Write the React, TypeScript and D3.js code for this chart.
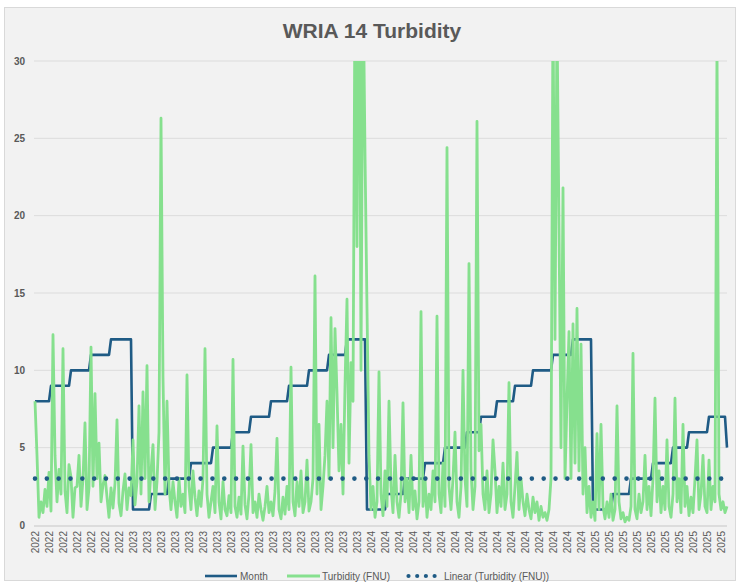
import React, { useRef, useEffect } from 'react';
import * as d3 from 'd3';

// Turbidity (FNU), one value per reading, Aug 2022 -> Jul 2025
const turbidity = [
  8.0, 4.5, 0.5, 1.5, 0.8, 2.3, 1.2, 3.4, 0.9, 12.3,
  4.5, 1.5, 3.6, 2.0, 11.4, 2.2, 0.8, 3.9, 3.1, 0.5,
  2.4, 2.5, 4.5, 1.2, 3.0, 6.6, 1.0, 2.4, 11.5, 2.5,
  8.5, 3.0, 5.3, 1.5, 2.6, 3.2, 1.8, 0.5, 2.4, 1.1,
  2.7, 6.8, 1.4, 0.6, 2.2, 3.3, 1.0, 2.4, 1.9, 5.5,
  1.3, 2.8, 7.7, 2.0, 8.6, 3.0, 10.3, 1.5, 3.5, 5.2,
  1.0, 2.8, 6.0, 26.3, 9.5, 2.0, 8.0, 2.5, 1.0, 2.8,
  1.5, 0.5, 3.0, 1.2, 2.0, 0.8, 9.7, 2.5, 1.0, 3.5,
  1.8, 0.6, 2.2, 1.2, 3.0, 11.4, 2.0, 0.5, 1.5, 2.5,
  0.8, 6.4, 1.5, 0.4, 2.8, 1.0, 0.6, 1.9, 0.8, 10.7,
  1.2, 0.5, 1.8, 0.7, 5.1, 1.3, 0.4, 2.0, 5.2, 0.8,
  1.5, 0.5, 2.0, 1.0, 0.3, 1.2, 2.5, 0.8, 1.5, 0.6,
  2.2, 5.6, 1.0, 0.4, 1.8, 0.7, 2.5, 1.0, 10.2, 1.5,
  0.6, 2.8, 1.2, 3.5, 0.8, 1.5, 4.2, 0.9, 1.5, 3.0,
  16.1, 2.0, 6.5, 1.0, 2.5, 4.5, 8.0, 3.0, 13.4, 5.0,
  12.7, 8.5, 3.5, 6.5, 2.0, 9.0, 14.6, 4.0, 10.5, 8.0,
  35, 18, 42, 10, 36, 24, 14.0, 4.5, 1.0, 2.5,
  0.5, 1.5, 9.9, 2.0, 0.6, 3.5, 1.2, 8.0, 2.5, 0.8,
  4.5, 1.5, 0.5, 2.0, 7.9, 1.5, 3.0, 0.8, 4.5, 1.0,
  2.2, 0.4, 1.5, 13.8, 1.2, 3.0, 0.5, 2.0, 1.0, 3.5,
  1.5, 13.5, 2.0, 0.8, 4.0, 1.2, 24.4, 2.5, 1.0, 3.0,
  6.0, 1.5, 0.5, 2.5, 10.0, 3.0, 1.2, 16.9, 3.5, 1.0,
  2.5, 26.1, 4.8, 6.5, 2.0, 1.0, 3.5, 0.8, 2.0, 5.5,
  3.5, 0.8, 2.5, 1.2, 4.0, 1.0, 2.0, 9.2, 1.5, 0.5,
  2.5, 4.7, 1.0, 3.0, 1.5, 0.6, 2.0, 1.0, 0.4, 1.8,
  0.8, 1.5, 0.3, 1.2, 0.5, 0.8, 0.3, 1.0, 3.0, 34,
  12, 33, 19.2, 5.0, 21.8, 3.0, 8.0, 12.5, 3.0, 13.0,
  4.0, 14.0, 3.5, 11.7, 2.0, 5.0, 0.8, 2.5, 0.5, 1.5,
  0.3, 5.9, 1.0, 6.5, 1.2, 0.4, 1.5, 0.5, 2.0, 0.3,
  1.0, 7.7, 1.5, 0.4, 0.8, 0.2, 0.5, 0.3, 1.2, 11.1,
  1.0, 0.4, 2.0, 0.8, 1.5, 4.5, 1.0, 2.5, 0.6, 3.0,
  8.2, 1.5, 3.5, 0.8, 2.5, 1.0, 5.5, 1.2, 0.5, 2.0,
  8.2, 1.5, 3.0, 0.8, 6.5, 1.2, 2.5, 0.6, 1.8, 0.8,
  3.0, 5.5, 1.0, 2.0, 4.5, 1.2, 0.8, 4.2, 1.0, 2.5,
  1.5, 31, 2.0, 1.0, 1.5, 0.8, 1.2,
];

// Month column: value and number of readings in that month
const monthValues = [
  8, 9, 10, 11, 12,
  1, 2, 3, 4, 5, 6, 7, 8, 9, 10, 11, 12,
  1, 2, 3, 4, 5, 6, 7, 8, 9, 10, 11, 12,
  1, 2, 3, 4, 5, 6, 7, 5,
];
const monthRuns = [
  8, 10, 10, 10, 11,
  9, 9, 11, 11, 10, 9, 10, 9, 10, 10, 9, 10,
  10, 9, 10, 10, 11, 7, 8, 9, 9, 10, 10, 10,
  10, 9, 11, 10, 8, 10, 9, 1,
];

// Category labels shown every 7th reading
const yearLabels = [
  '2022', '2022', '2022', '2022', '2022', '2022', '2022',
  '2023', '2023', '2023', '2023', '2023', '2023', '2023', '2023', '2023',
  '2023', '2023', '2023', '2023', '2023', '2023', '2023', '2023',
  '2024', '2024', '2024', '2024', '2024', '2024', '2024', '2024',
  '2024', '2024', '2024', '2024', '2024', '2024', '2024', '2024',
  '2025', '2025', '2025', '2025', '2025', '2025', '2025', '2025', '2025', '2025',
];
const labelEvery = 7;

const yTicks = [0, 5, 10, 15, 20, 25, 30];
const trendEnds = [3.0, 3.0]; // linear trendline of turbidity, first and last reading

const App = () => {
  const svgRef = useRef(null);

  useEffect(() => {
    const svg = d3.select(svgRef.current);
    svg.selectAll('*').remove();

    const width = 739;
    const height = 582;
    const plot = { left: 35, right: 727, top: 61, bottom: 525 };
    const textColor = '#595959';
    const blue = '#1f5b85';
    const green = '#86e08e';
    const font = "'Liberation Sans', Arial, sans-serif";

    const months = monthValues.flatMap((m, k) => d3.range(monthRuns[k]).map(() => m));
    const n = turbidity.length;

    const x = d3.scaleLinear().domain([0, n - 1]).range([plot.left, plot.right]);
    const y = d3.scaleLinear().domain([0, 30]).range([plot.bottom, plot.top]);

    svg.attr('width', width).attr('height', height);

    // chart frame
    svg.append('rect')
       .attr('x', 4.5).attr('y', 7.5)
       .attr('width', 731).attr('height', 573)
       .attr('fill', '#f2f2f2')
       .attr('stroke', '#d9d9d9');

    // title
    svg.append('text')
       .attr('x', 372)
       .attr('y', 38)
       .attr('text-anchor', 'middle')
       .attr('font-family', font)
       .attr('font-weight', 'bold')
       .attr('font-size', 21)
       .attr('fill', textColor)
       .text('WRIA 14 Turbidity');

    // gridlines + y labels
    svg.append('g')
       .selectAll('line')
       .data(yTicks.filter(d => d > 0))
       .join('line')
       .attr('x1', plot.left - 1).attr('x2', plot.right)
       .attr('y1', d => y(d)).attr('y2', d => y(d))
       .attr('stroke', '#dcdcdc')
       .attr('stroke-width', 1);

    svg.append('line')
       .attr('x1', plot.left - 1).attr('x2', plot.right)
       .attr('y1', y(0) + 1).attr('y2', y(0) + 1)
       .attr('stroke', '#d4d4d4')
       .attr('stroke-width', 1.5);

    svg.append('g')
       .selectAll('text')
       .data(yTicks)
       .join('text')
       .attr('x', 25)
       .attr('y', d => y(d) + 3.5)
       .attr('text-anchor', 'end')
       .attr('font-family', font)
       .attr('font-weight', 'bold')
       .attr('font-size', 10)
       .attr('fill', textColor)
       .text(d => d);

    // x labels, rotated
    svg.append('g')
       .selectAll('text')
       .data(yearLabels)
       .join('text')
       .attr('transform', (d, j) => `translate(${x(j * labelEvery)}, 531) rotate(-90)`)
       .attr('dy', '0.35em')
       .attr('text-anchor', 'end')
       .attr('font-family', font)
       .attr('font-size', 10)
       .attr('fill', textColor)
       .text(d => d);

    svg.append('clipPath')
       .attr('id', 'plotClip')
       .append('rect')
       .attr('x', plot.left - 3).attr('y', plot.top)
       .attr('width', plot.right - plot.left + 6)
       .attr('height', plot.bottom - plot.top + 5);

    const g = svg.append('g').attr('clip-path', 'url(#plotClip)');

    // Month
    g.append('path')
       .datum(months)
       .attr('fill', 'none')
       .attr('stroke', blue)
       .attr('stroke-width', 2.6)
       .attr('stroke-linejoin', 'round')
       .attr('d', d3.line().x((d, i) => x(i)).y(d => y(d)));

    // Turbidity
    g.append('path')
       .datum(turbidity)
       .attr('fill', 'none')
       .attr('stroke', green)
       .attr('stroke-width', 2.8)
       .attr('stroke-linejoin', 'round')
       .attr('d', d3.line().x((d, i) => x(i)).y(d => y(d)));

    // Linear trend
    g.append('path')
       .datum(trendEnds)
       .attr('fill', 'none')
       .attr('stroke', blue)
       .attr('stroke-width', 4.6)
       .attr('stroke-linecap', 'round')
       .attr('stroke-dasharray', '0 11.83')
       .attr('d', d3.line().x((d, i) => x(i * (n - 1))).y(d => y(d)));

    // legend
    const legendY = 576;
    const legend = svg.append('g')
       .attr('font-family', font)
       .attr('font-size', 10)
       .attr('fill', textColor);

    legend.append('line')
       .attr('x1', 205).attr('x2', 237)
       .attr('y1', legendY).attr('y2', legendY)
       .attr('stroke', blue).attr('stroke-width', 2.6);
    legend.append('text').attr('x', 240).attr('y', legendY + 3.5).text('Month');

    legend.append('line')
       .attr('x1', 287).attr('x2', 320)
       .attr('y1', legendY).attr('y2', legendY)
       .attr('stroke', green).attr('stroke-width', 2.8);
    legend.append('text').attr('x', 322).attr('y', legendY + 3.5).text('Turbidity (FNU)');

    legend.append('line')
       .attr('x1', 408.5).attr('x2', 436)
       .attr('y1', legendY).attr('y2', legendY)
       .attr('stroke', blue).attr('stroke-width', 4.2)
       .attr('stroke-linecap', 'round')
       .attr('stroke-dasharray', '0 8.7');
    legend.append('text').attr('x', 444).attr('y', legendY + 3.5).text('Linear (Turbidity (FNU))');
  }, []);

  return <svg ref={svgRef} style={{ position: 'absolute', left: 0, top: 0 }}></svg>;
};

export default App;
